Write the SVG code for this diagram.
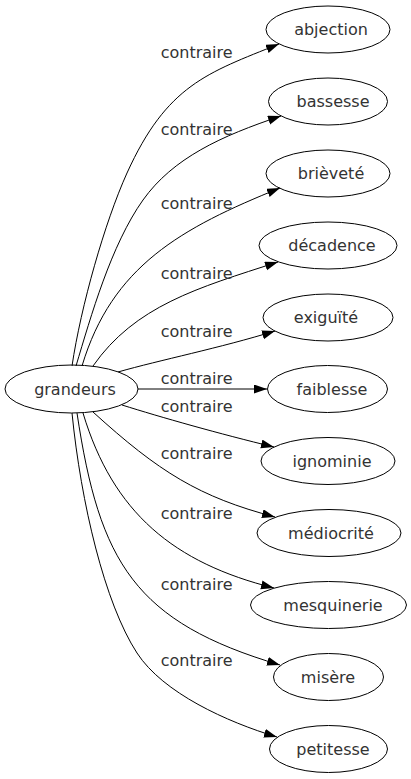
<svg xmlns="http://www.w3.org/2000/svg" width="411" height="779" viewBox="0 0 411 779">
<style>
.node ellipse{fill:none;stroke:#000;stroke-width:1}
text{font-family:"DejaVu Sans","Liberation Sans",sans-serif;font-size:16px;fill:#333;text-anchor:middle}
#edges path{fill:none;stroke:#000;stroke-width:1;marker-end:url(#arr)}
</style>
<defs>
<marker id="arr" markerUnits="userSpaceOnUse" markerWidth="14" markerHeight="10" refX="13" refY="4.5" orient="auto"><path d="M0,0 L13,4.5 L0,9 z" fill="#000"/></marker>
</defs>
<rect width="411" height="779" fill="#fff"/>
<g id="edges">
<path d="M72,366 C81,306 104.5,223 127,173 C167,85 207,73 279,44"/>
<path d="M76,366 C91,316 111,245 143,200 C173,158 221,136 281,116"/>
<path d="M82,366 C112,266 181,228 280,188"/>
<path d="M93,366 C135,306 197,288 278,262"/>
<path d="M118,372 C160,360 220,348 275,331"/>
<path d="M138,389 L267,389"/>
<path d="M122,405 C160,417 220,434 274,447"/>
<path d="M93,412 C159,472 199,497 275,517"/>
<path d="M83,413 C113,513 174,563 274,588"/>
<path d="M77,413 C99.5,563 135,622 280,665"/>
<path d="M72,413 C81,503 104.5,603 137,653 C163,693 227,722 277,737"/>
<text x="196.7" y="58">contraire</text>
<text x="196.7" y="135">contraire</text>
<text x="196.7" y="209">contraire</text>
<text x="196.7" y="279">contraire</text>
<text x="196.7" y="337">contraire</text>
<text x="196.7" y="384">contraire</text>
<text x="196.7" y="412">contraire</text>
<text x="196.7" y="459">contraire</text>
<text x="196.7" y="519">contraire</text>
<text x="196.7" y="590">contraire</text>
<text x="196.7" y="666">contraire</text>
</g>
<g id="grandeurs" class="node"><ellipse cx="71.5" cy="389" rx="66.5" ry="24"/><text x="75" y="395">grandeurs</text></g>
<g id="abjection" class="node"><ellipse cx="328" cy="29.5" rx="62" ry="23.5"/><text x="331" y="35">abjection</text></g>
<g id="bassesse" class="node"><ellipse cx="328" cy="101.5" rx="59.5" ry="23.5"/><text x="333" y="107">bassesse</text></g>
<g id="brievete" class="node"><ellipse cx="328" cy="173.5" rx="62" ry="23.5"/><text x="331" y="179">brièveté</text></g>
<g id="decadence" class="node"><ellipse cx="328" cy="245.5" rx="69" ry="23.5"/><text x="332" y="251">décadence</text></g>
<g id="exiguite" class="node"><ellipse cx="328" cy="317.5" rx="65" ry="23.5"/><text x="326" y="323">exiguïté</text></g>
<g id="faiblesse" class="node"><ellipse cx="327.5" cy="389" rx="60" ry="23.5"/><text x="332" y="395">faiblesse</text></g>
<g id="ignominie" class="node"><ellipse cx="328" cy="461" rx="67" ry="23.5"/><text x="332" y="467">ignominie</text></g>
<g id="mediocrite" class="node"><ellipse cx="329" cy="533" rx="72" ry="23.5"/><text x="331" y="539">médiocrité</text></g>
<g id="mesquinerie" class="node"><ellipse cx="328.5" cy="605" rx="78" ry="23.5"/><text x="333" y="611">mesquinerie</text></g>
<g id="misere" class="node"><ellipse cx="328.5" cy="677" rx="55" ry="23.5"/><text x="328" y="683">misère</text></g>
<g id="petitesse" class="node"><ellipse cx="328.5" cy="749" rx="59" ry="23.5"/><text x="333" y="755">petitesse</text></g>
</svg>
